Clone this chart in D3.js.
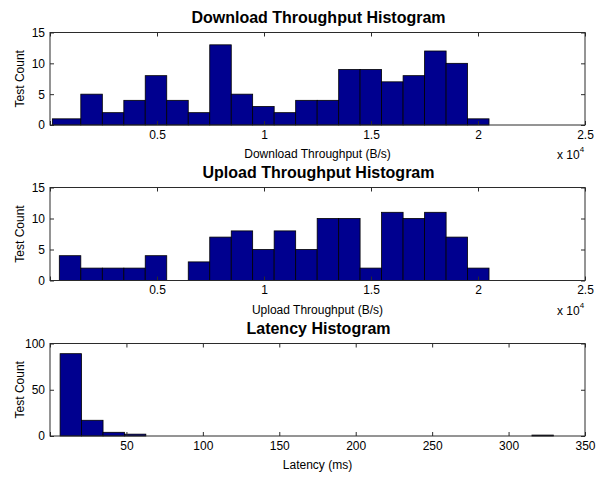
<!DOCTYPE html>
<html><head><meta charset="utf-8">
<script src="https://cdn.jsdelivr.net/npm/d3@7"></script>
<style>
body{margin:0;background:#fff;}
svg{display:block;}
text{font-family:"Liberation Sans",Arial,Helvetica,sans-serif;fill:#000;}
</style></head>
<body>
<svg id="chart" width="613" height="477"></svg>
<script>
// ---- data ----
const throughputEdges = [435,1440,2445,3450,4450,5455,6460,7465,8470,9470,10475,11480,12485,13490,14490,15495,16500,17505,18510,19510,20515];
const downloadFirstEdge = 110;
const downloadCounts = [1,5,2,4,8,4,2,13,5,3,2,4,4,9,9,7,8,12,10,1];
const uploadCounts   = [4,2,2,2,4,0,3,7,8,5,8,5,10,10,2,11,10,11,7,2];
const latencyEdges = [6.6,20.6,34.7,48.7,62.7,76.8,90.8,104.8,118.8,132.9,146.9,160.9,175.0,189.0,203.0,217.1,231.1,245.1,259.1,273.2,287.2,301.2,315.3,329.3];
const latencyCounts = [89,17,4,2,0,0,0,0,0,0,0,0,0,0,0,0,0,0,0,0,0,0,1];
const throughputTicks = [0,5000,10000,15000,20000,25000];
const throughputTickLabels = ["","0.5","1","1.5","2","2.5"];
const countTicksSmall = [0,5,10,15];
const latencyTicks = [0,50,100,150,200,250,300,350];
const latencyTickLabels = ["","50","100","150","200","250","300","350"];
const countTicksLatency = [0,50,100];

const titles = ["Download Throughput Histogram","Upload Throughput Histogram","Latency Histogram"];
const xLabels = ["Download Throughput (B/s)","Upload Throughput (B/s)","Latency (ms)"];
const yLabel = "Test Count";

// ---- layout ----
const svg = d3.select("#chart");
const L = 50, R = 585;
const panels = [
  {top:32.5, bottom:125, edges:throughputEdges.map((e,i)=> i===0?downloadFirstEdge:e), counts:downloadCounts,
   xdom:[0,25000], ydom:[0,15], xt:throughputTicks, xtl:throughputTickLabels, yt:countTicksSmall, exp:true},
  {top:187.5, bottom:280.5, edges:throughputEdges, counts:uploadCounts,
   xdom:[0,25000], ydom:[0,15], xt:throughputTicks, xtl:throughputTickLabels, yt:countTicksSmall, exp:true},
  {top:343.5, bottom:436, edges:latencyEdges, counts:latencyCounts,
   xdom:[0,350], ydom:[0,100], xt:latencyTicks, xtl:latencyTickLabels, yt:countTicksLatency, exp:false}
];
const axisColor = "#2b2b2b";
const fill = "#00008f";
const tickLen = 4;
const fs = 12;

panels.forEach((p, k) => {
  const x = d3.scaleLinear().domain(p.xdom).range([L, R]);
  const y = d3.scaleLinear().domain(p.ydom).range([p.bottom, p.top]);
  const g = svg.append("g");

  // bars
  const bins = p.counts.map((c,i)=>({x0:p.edges[i], x1:p.edges[i+1], c})).filter(b=>b.c>0);
  g.selectAll("rect.bar").data(bins).enter().append("rect")
    .attr("x", d=>x(d.x0)).attr("width", d=>x(d.x1)-x(d.x0))
    .attr("y", d=>y(d.c)).attr("height", d=>y(0)-y(d.c))
    .attr("fill", fill).attr("stroke", "#000").attr("stroke-width", 0.8);

  // axes with inward ticks
  const bx = d3.axisBottom(x).tickValues(p.xt).tickSize(-tickLen).tickPadding(6)
      .tickFormat((d,i)=>p.xtl[i]);
  const gx = g.append("g").attr("transform",`translate(0,${p.bottom})`).call(bx);
  const tx = d3.axisTop(x).tickValues(p.xt).tickSize(-tickLen).tickFormat("");
  const gtx = g.append("g").attr("transform",`translate(0,${p.top})`).call(tx);
  const ly = d3.axisLeft(y).tickValues(p.yt).tickSize(-tickLen).tickPadding(5).tickFormat(d3.format("d"));
  const gy = g.append("g").attr("transform",`translate(${L},0)`).call(ly);
  const ry = d3.axisRight(y).tickValues(p.yt).tickSize(-tickLen).tickFormat("");
  const gry = g.append("g").attr("transform",`translate(${R},0)`).call(ry);
  [gx,gtx,gy,gry].forEach(a=>{
    a.select(".domain").remove();
    a.selectAll(".tick line").attr("stroke", axisColor);
    a.selectAll("text").attr("font-size", fs).attr("fill","#000")
      .style("font-family",'"Liberation Sans",Arial,sans-serif');
  });
  gx.selectAll("text").attr("dy","0.71em").attr("y", 5);
  // box
  g.append("rect").attr("x",L).attr("y",p.top).attr("width",R-L).attr("height",p.bottom-p.top)
    .attr("fill","none").attr("stroke",axisColor).attr("stroke-width",1);

  // title
  g.append("text").attr("x",(L+R)/2+1).attr("y",p.top-10).attr("text-anchor","middle")
    .attr("font-size",16).attr("font-weight","bold").text(titles[k]);
  // x label
  g.append("text").attr("x",(L+R)/2).attr("y",p.bottom+33).attr("text-anchor","middle")
    .attr("font-size",fs).text(xLabels[k]);
  // y label
  g.append("text").attr("transform",`translate(24,${(p.top+p.bottom)/2}) rotate(-90)`)
    .attr("text-anchor","middle").attr("font-size",fs).text(yLabel);
  // exponent
  if (p.exp) {
    const t = g.append("text").attr("x",557).attr("y",p.bottom+34).attr("font-size",fs);
    t.append("tspan").text("x 10");
    t.append("tspan").attr("font-size",8).attr("dy",-7).text("4");
  }
});
</script>
</body></html>
